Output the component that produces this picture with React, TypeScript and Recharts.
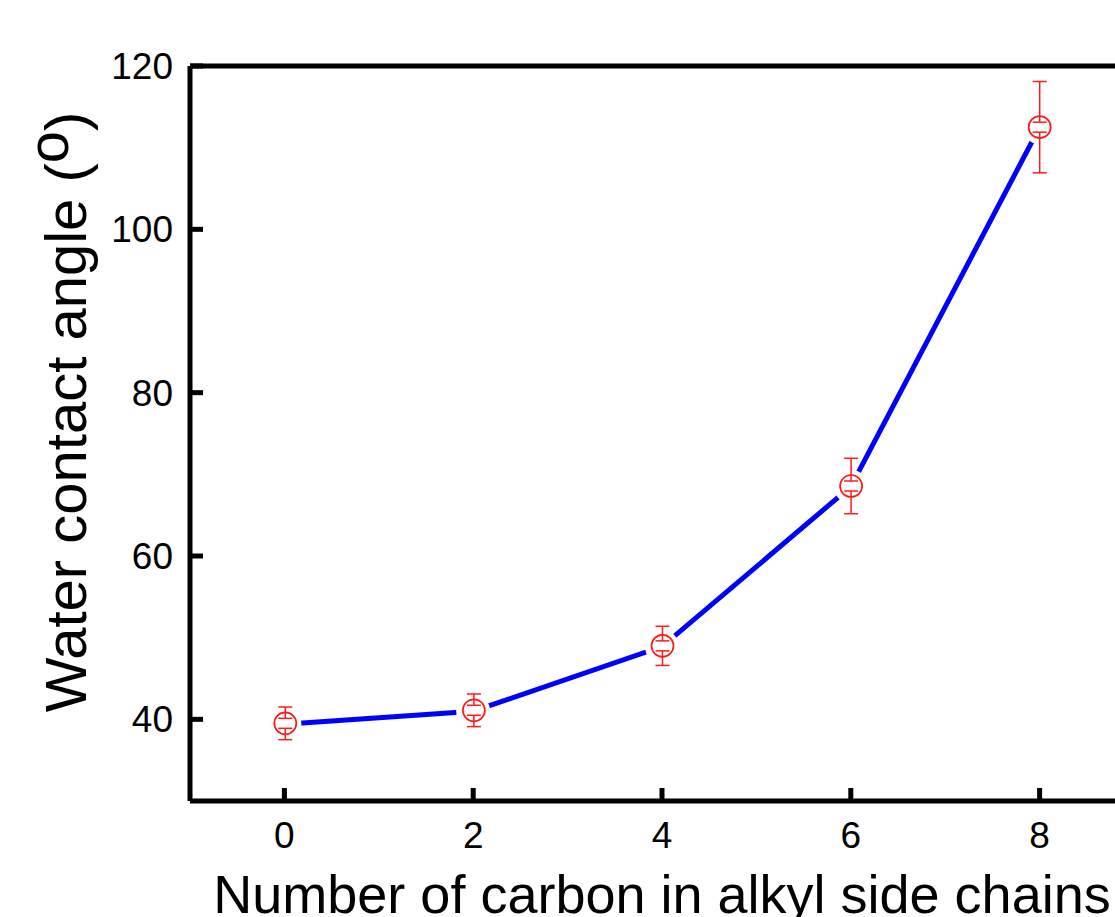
import React from 'react';
import { LineChart, Line, XAxis, YAxis, ErrorBar, Label } from 'recharts';

const carbonNumbers = [0, 2, 4, 6, 8];
const contactAngles = [39.4, 41.0, 48.9, 68.5, 112.5];
const angleErrors = [2.0, 2.0, 2.4, 3.4, 5.6];
const xTicks = [0, 2, 4, 6, 8];
const yTicks = [40, 60, 80, 100, 120];

const data = carbonNumbers.map((x, i) => ({ x, angle: contactAngles[i], err: angleErrors[i] }));

const FONT = 'Arial, "Liberation Sans", Helvetica, sans-serif';
const RED = '#ff1a1a';
const BLUE = '#0000ff';
const W = 1115;
const H = 917;
const X_DOMAIN: [number, number] = [-1, 9];
const Y_DOMAIN: [number, number] = [30, 120];
const AXIS_W = 5;
const TICK_LEN = 13;

const YTick = (props: any) => {
  const { x, y, payload } = props;
  return (
    <text x={x - TICK_LEN - 17} y={y + 13} textAnchor="end" fontSize={37} fontFamily={FONT} fill="#000">
      {payload.value}
    </text>
  );
};

const XTick = (props: any) => {
  const { x, y, payload } = props;
  return (
    <text x={x} y={y + TICK_LEN + 47} textAnchor="middle" fontSize={37} fontFamily={FONT} fill="#000">
      {payload.value}
    </text>
  );
};

const XTitle = (props: any) => {
  const { viewBox } = props;
  const cx = viewBox.x + viewBox.width / 2;
  return (
    <text x={cx} y={913} textAnchor="middle" fontSize={54} fontFamily={FONT} fill="#000">
      Number of carbon in alkyl side chains
    </text>
  );
};

const YTitle = () => {
  const x = 86;
  const y = 412;
  return (
    <text
      x={x}
      y={y}
      transform={`rotate(-90, ${x}, ${y})`}
      textAnchor="middle"
      fontSize={58}
      fontFamily={FONT}
      fill="#000"
    >
      Water contact angle (<tspan dy={-18}>o</tspan><tspan dy={18}>)</tspan>
    </text>
  );
};

const GapDot = (p: any) => <circle key={`g${p.index}`} cx={p.cx} cy={p.cy} r={17} fill="#fff" />;

const MarkerDot = (p: any) => {
  const { cx, cy, index } = p;
  return (
    <g key={`m${index}`}>
      <circle cx={cx} cy={cy} r={11} fill="#fff" stroke={RED} strokeWidth={1.7} />
      <line x1={cx - 7} x2={cx + 7} y1={cy - 5} y2={cy - 5} stroke={RED} strokeWidth={1.5} />
      <line x1={cx - 7} x2={cx + 7} y1={cy + 5} y2={cy + 5} stroke={RED} strokeWidth={1.5} />
      <line x1={cx} x2={cx} y1={cy - 11} y2={cy - 5} stroke={RED} strokeWidth={1.5} />
      <line x1={cx} x2={cx} y1={cy + 5} y2={cy + 11} stroke={RED} strokeWidth={1.5} />
    </g>
  );
};

export default function App() {
  return (
    <div style={{ position: 'absolute', left: 0, top: 0, width: W, height: H, background: '#fff', overflow: 'hidden' }}>
      <div style={{ position: 'absolute', left: 0, top: 0 }}>
        <LineChart width={W} height={H} data={data} margin={{ top: 65, right: -19, bottom: 116, left: 190 }}>
          <XAxis
            xAxisId="top"
            orientation="top"
            dataKey="x"
            type="number"
            domain={X_DOMAIN}
            height={1}
            tick={false}
            tickLine={false}
            axisLine={{ stroke: '#000', strokeWidth: AXIS_W }}
          />
          <XAxis
            dataKey="x"
            type="number"
            domain={X_DOMAIN}
            ticks={xTicks}
            height={1}
            mirror
            tickSize={TICK_LEN}
            tickMargin={0}
            tickLine={{ stroke: '#000', strokeWidth: AXIS_W }}
            tick={<XTick />}
            interval={0}
            axisLine={{ stroke: '#000', strokeWidth: AXIS_W }}
          >
            <Label content={<XTitle />} />
          </XAxis>
          <YAxis
            type="number"
            domain={Y_DOMAIN}
            ticks={yTicks}
            width={1}
            mirror
            tickSize={TICK_LEN}
            tickMargin={0}
            tickLine={{ stroke: '#000', strokeWidth: AXIS_W }}
            tick={<YTick />}
            interval={0}
            axisLine={{ stroke: '#000', strokeWidth: AXIS_W }}
          >
            <Label content={<YTitle />} />
          </YAxis>
          <Line
            dataKey="angle"
            type="linear"
            stroke={BLUE}
            strokeWidth={5}
            dot={GapDot}
            activeDot={false}
            isAnimationActive={false}
          />
        </LineChart>
      </div>
      <div style={{ position: 'absolute', left: 0, top: 0 }}>
        <LineChart width={W} height={H} data={data} margin={{ top: 66, right: -19, bottom: 117, left: 191 }}>
          <XAxis dataKey="x" type="number" domain={X_DOMAIN} hide />
          <YAxis type="number" domain={Y_DOMAIN} hide />
          <Line
            dataKey="angle"
            type="linear"
            stroke="none"
            strokeWidth={0}
            dot={MarkerDot}
            activeDot={false}
            isAnimationActive={false}
          >
            <ErrorBar dataKey="err" width={7} stroke={RED} strokeWidth={1.5} direction="y" isAnimationActive={false} />
          </Line>
        </LineChart>
      </div>
    </div>
  );
}
